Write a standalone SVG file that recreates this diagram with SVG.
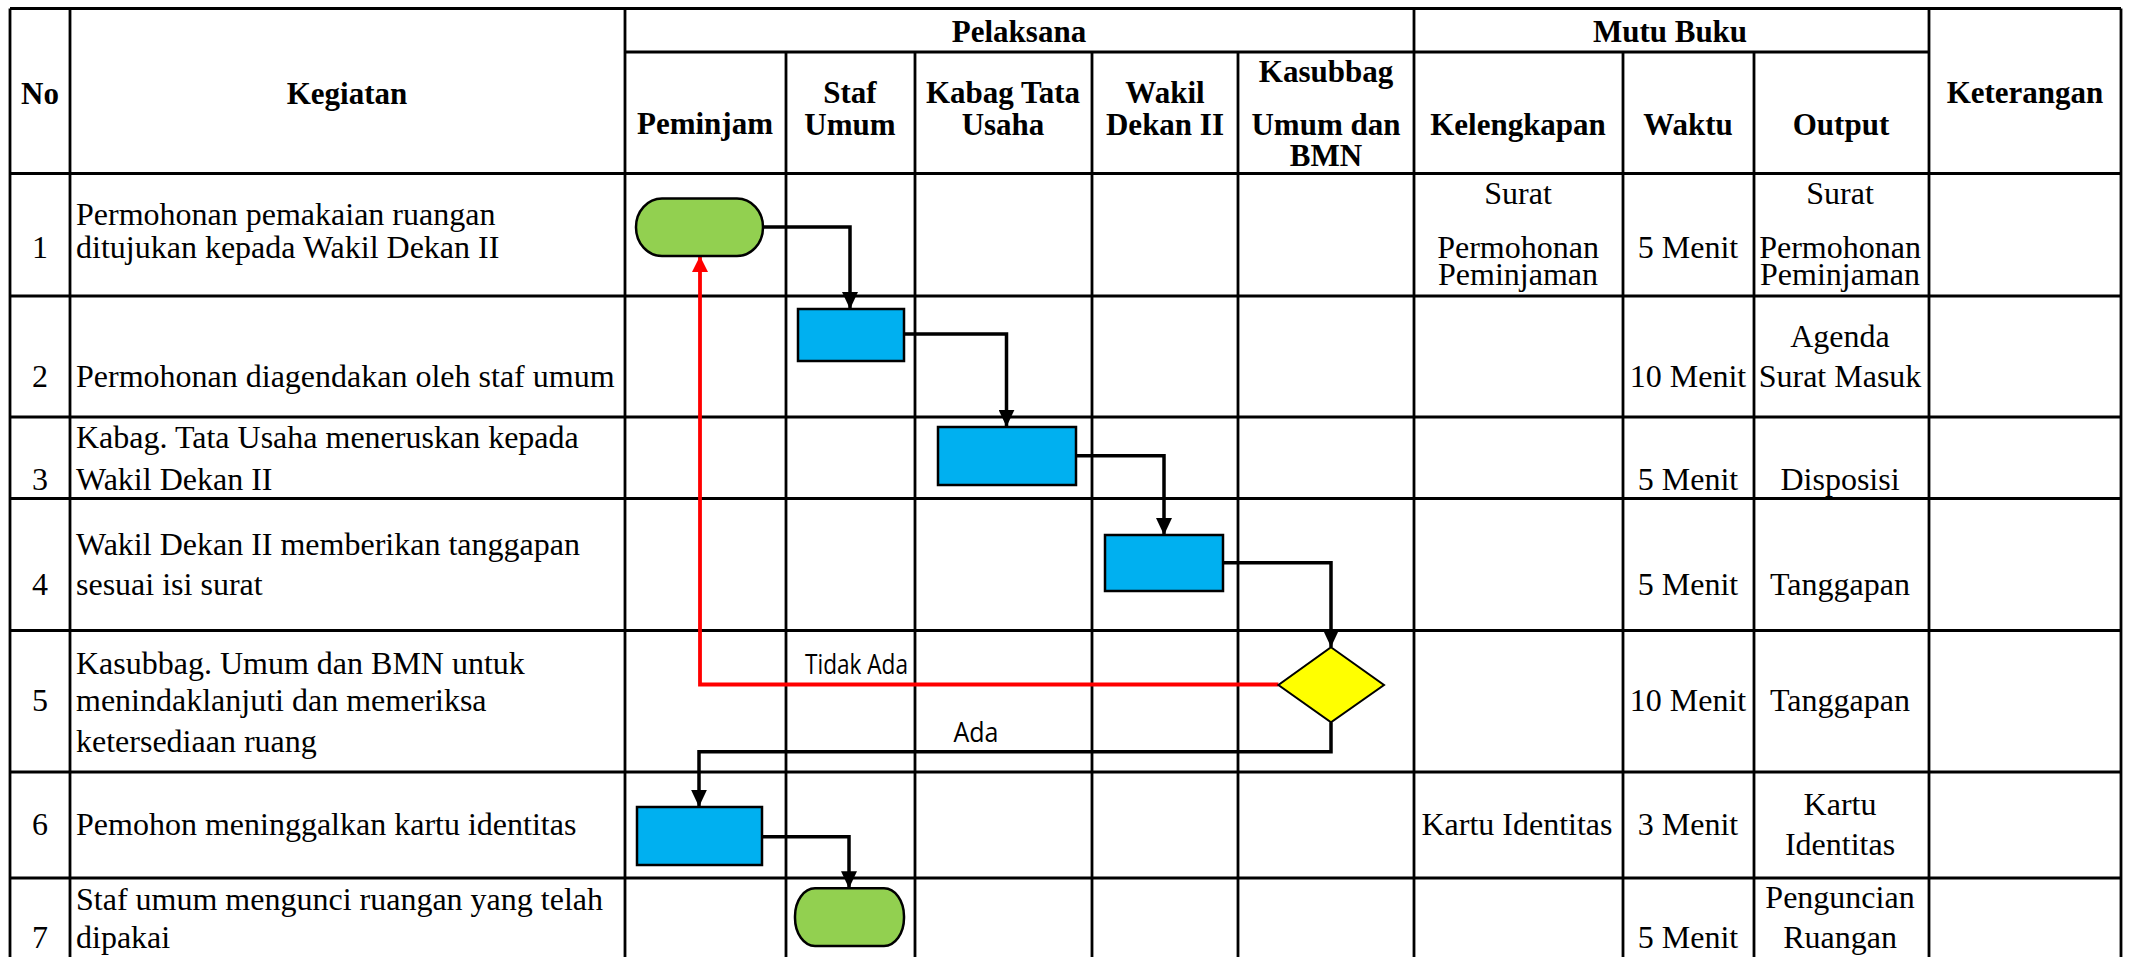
<svg xmlns="http://www.w3.org/2000/svg" width="2129" height="957" viewBox="0 0 2129 957">
<style>
.grid{stroke:#000;stroke-width:2.8;fill:none}
.h{font-family:"Liberation Serif","Times New Roman",serif;font-weight:bold;font-size:31px;fill:#000;text-anchor:middle}
.t{font-family:"Liberation Serif","Times New Roman",serif;font-size:32px;fill:#000}
.c{text-anchor:middle}
.lbl{font-family:"Open Sans","DejaVu Sans",sans-serif;font-size:27px;fill:#000}
.term{fill:#92D050;stroke:#000;stroke-width:2.5}
.proc{fill:#00B0F0;stroke:#000;stroke-width:2.5}
.dec{fill:#FFFF00;stroke:#000;stroke-width:2}
.conn{fill:none;stroke:#000;stroke-width:3.5}
.red{fill:none;stroke:#FF0000;stroke-width:3.8}
</style>
<defs>
<marker id="ab" markerUnits="userSpaceOnUse" markerWidth="17" markerHeight="16" viewBox="0 0 17 16" refX="17" refY="8" orient="auto"><path d="M0,0 L17,8 L0,16 z" fill="#000"/></marker>
<marker id="ar" markerUnits="userSpaceOnUse" markerWidth="16" markerHeight="16" viewBox="0 0 16 16" refX="16" refY="8" orient="auto"><path d="M0,0 L16,8 L0,16 z" fill="#FF0000"/></marker>
</defs>
<rect width="2129" height="957" fill="#fff"/>
<g id="table">
<path class="grid" d="M10,8.5 H2121 M625,52 H1929 M10,173.5 H2121 M10,296 H2121 M10,417 H2121 M10,498.5 H2121 M10,630.5 H2121 M10,772 H2121 M10,878 H2121"/>
<path class="grid" d="M10,8.5 V957 M70,8.5 V957 M625,8.5 V957 M1414,8.5 V957 M1929,8.5 V957 M2121,8.5 V957 M786,52 V957 M915,52 V957 M1092,52 V957 M1238,52 V957 M1623,52 V957 M1754,52 V957"/>
</g>
<g id="header">
<text class="h" x="40" y="104">No</text>
<text class="h" x="347" y="104">Kegiatan</text>
<text class="h" x="1019" y="42">Pelaksana</text>
<text class="h" x="1670" y="42">Mutu Buku</text>
<text class="h" x="2025" y="103">Keterangan</text>
<text class="h" x="705" y="134">Peminjam</text>
<text class="h" x="850" y="102.7">Staf</text>
<text class="h" x="850" y="135">Umum</text>
<text class="h" x="1003" y="102.7">Kabag Tata</text>
<text class="h" x="1003" y="135">Usaha</text>
<text class="h" x="1165" y="102.7">Wakil</text>
<text class="h" x="1165" y="135">Dekan II</text>
<text class="h" x="1326" y="81.7">Kasubbag</text>
<text class="h" x="1326" y="135">Umum dan</text>
<text class="h" x="1326" y="165.7">BMN</text>
<text class="h" x="1518" y="135">Kelengkapan</text>
<text class="h" x="1688" y="135">Waktu</text>
<text class="h" x="1841" y="135">Output</text>
</g>
<g id="row1">
<text class="t c" x="40" y="258">1</text>
<text class="t" x="76" y="225">Permohonan pemakaian ruangan</text>
<text class="t" x="76" y="258">ditujukan kepada Wakil Dekan II</text>
<text class="t c" x="1518" y="204">Surat</text>
<text class="t c" x="1518" y="258">Permohonan</text>
<text class="t c" x="1518" y="285">Peminjaman</text>
<text class="t c" x="1688" y="258">5 Menit</text>
<text class="t c" x="1840" y="204">Surat</text>
<text class="t c" x="1840" y="258">Permohonan</text>
<text class="t c" x="1840" y="285">Peminjaman</text>
</g>
<g id="row2">
<text class="t c" x="40" y="386.7">2</text>
<text class="t" x="76" y="386.7">Permohonan diagendakan oleh staf umum</text>
<text class="t c" x="1688" y="386.7">10 Menit</text>
<text class="t c" x="1840" y="346.7">Agenda</text>
<text class="t c" x="1840" y="386.7">Surat Masuk</text>
</g>
<g id="row3">
<text class="t c" x="40" y="490">3</text>
<text class="t" x="76" y="448.3">Kabag. Tata Usaha meneruskan kepada</text>
<text class="t" x="76" y="490">Wakil Dekan II</text>
<text class="t c" x="1688" y="490">5 Menit</text>
<text class="t c" x="1840" y="490">Disposisi</text>
</g>
<g id="row4">
<text class="t c" x="40" y="595">4</text>
<text class="t" x="76" y="555">Wakil Dekan II memberikan tanggapan</text>
<text class="t" x="76" y="595">sesuai isi surat</text>
<text class="t c" x="1688" y="595">5 Menit</text>
<text class="t c" x="1840" y="595">Tanggapan</text>
</g>
<g id="row5">
<text class="t c" x="40" y="710.7">5</text>
<text class="t" x="76" y="674">Kasubbag. Umum dan BMN untuk</text>
<text class="t" x="76" y="710.7">menindaklanjuti dan memeriksa</text>
<text class="t" x="76" y="751.7">ketersediaan ruang</text>
<text class="t c" x="1688" y="710.7">10 Menit</text>
<text class="t c" x="1840" y="710.7">Tanggapan</text>
</g>
<g id="row6">
<text class="t c" x="40" y="835">6</text>
<text class="t" x="76" y="835">Pemohon meninggalkan kartu identitas</text>
<text class="t c" x="1517" y="835">Kartu Identitas</text>
<text class="t c" x="1688" y="835">3 Menit</text>
<text class="t c" x="1840" y="815">Kartu</text>
<text class="t c" x="1840" y="855">Identitas</text>
</g>
<g id="row7">
<text class="t c" x="40" y="948.3">7</text>
<text class="t" x="76" y="910">Staf umum mengunci ruangan yang telah</text>
<text class="t" x="76" y="948.3">dipakai</text>
<text class="t c" x="1688" y="948.3">5 Menit</text>
<text class="t c" x="1840" y="908.3">Penguncian</text>
<text class="t c" x="1840" y="948.3">Ruangan</text>
</g>
<g id="connectors">
<path class="conn" d="M763,227 H850 V309" marker-end="url(#ab)"/>
<path class="conn" d="M904,334 H1006.5 V426.7" marker-end="url(#ab)"/>
<path class="conn" d="M1076,455.7 H1164 V535" marker-end="url(#ab)"/>
<path class="conn" d="M1223,562.7 H1331 V647" marker-end="url(#ab)"/>
<path class="red" d="M1278.4,684.5 H700 V256" marker-end="url(#ar)"/>
<path class="conn" d="M1331,722.3 V751.7 H699 V806.7" marker-end="url(#ab)"/>
<path class="conn" d="M761.7,836.7 H849 V888.3" marker-end="url(#ab)"/>
<text class="lbl" x="805" y="674" textLength="103" lengthAdjust="spacingAndGlyphs">Tidak Ada</text>
<text class="lbl" x="953.5" y="741.7" font-size="24" textLength="45" lengthAdjust="spacingAndGlyphs">Ada</text>
</g>
<g id="start"><rect class="term" x="636" y="198.5" width="127" height="57.5" rx="26" ry="28.5"/></g>
<g id="p1"><rect class="proc" x="798" y="309" width="106" height="52"/></g>
<g id="p2"><rect class="proc" x="938" y="427" width="138" height="58"/></g>
<g id="p3"><rect class="proc" x="1105" y="535" width="118" height="56"/></g>
<g id="decision"><polygon class="dec" points="1331,647.3 1384,685 1331,722.3 1278.4,685"/></g>
<g id="p4"><rect class="proc" x="637" y="807" width="125" height="58"/></g>
<g id="end"><rect class="term" x="795" y="888.3" width="109" height="57.7" rx="20" ry="28"/></g>
</svg>
